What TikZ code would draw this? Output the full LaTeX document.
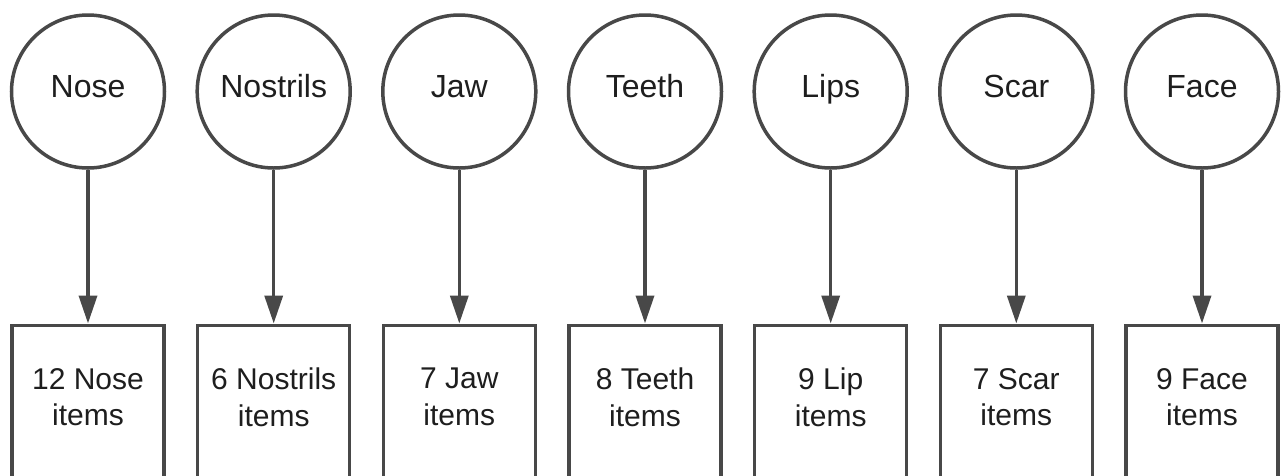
\documentclass[tikz,border=0pt]{standalone}
\usepackage{fontspec}
\setmainfont{Liberation Sans}
\usetikzlibrary{arrows.meta}
\definecolor{linec}{HTML}{484848}
\definecolor{textc}{HTML}{1E1E1E}
\newcommand{\itemtext}[2]{\begin{minipage}[t][180pt][t]{152pt}\centering\vspace*{43pt}#1\\#2\end{minipage}}
\begin{document}
\begin{tikzpicture}[x=1pt,y=-1pt,
 concept/.style={circle, draw=linec, line width=3.5pt, minimum size=153pt, inner sep=0pt,
   font=\fontsize{32}{38}\selectfont, text=textc, text height=22pt, text depth=9.4pt},
 itembox/.style={rectangle, draw=linec, line width=3.5pt, anchor=north, inner sep=0pt,
   font=\fontsize{30}{36.5}\selectfont, text=textc},
 link/.style={draw=linec, line width=3.5pt, -{Triangle[width=18pt,length=28pt]}}]
\useasboundingbox (0,0) rectangle (1283,475);
\clip (0,0) rectangle (1283,475);
\fill[white] (0,0) rectangle (1283,475);

\node[concept] (c1) at (88,91.5) {Nose};
\node[concept] (c2) at (273.7,91.5) {Nostrils};
\node[concept] (c3) at (459.3,91.5) {Jaw};
\node[concept] (c4) at (645,91.5) {Teeth};
\node[concept] (c5) at (830.7,91.5) {Lips};
\node[concept] (c6) at (1016.3,91.5) {Scar};
\node[concept] (c7) at (1202,91.5) {Face};

\node[itembox] (b1) at (88,323.5) {\itemtext{12 Nose}{items}};
\node[itembox] (b2) at (273.7,323.5) {\itemtext{6 Nostrils}{items}};
\node[itembox] (b3) at (459.3,323.5) {\itemtext{7 Jaw}{items}};
\node[itembox] (b4) at (645,323.5) {\itemtext{8 Teeth}{items}};
\node[itembox] (b5) at (830.7,323.5) {\itemtext{9 Lip}{items}};
\node[itembox] (b6) at (1016.3,323.5) {\itemtext{7 Scar}{items}};
\node[itembox] (b7) at (1202,323.5) {\itemtext{9 Face}{items}};

\draw[link] (c1) -- (b1);
\draw[link] (c2) -- (b2);
\draw[link] (c3) -- (b3);
\draw[link] (c4) -- (b4);
\draw[link] (c5) -- (b5);
\draw[link] (c6) -- (b6);
\draw[link] (c7) -- (b7);
\end{tikzpicture}
\end{document}
